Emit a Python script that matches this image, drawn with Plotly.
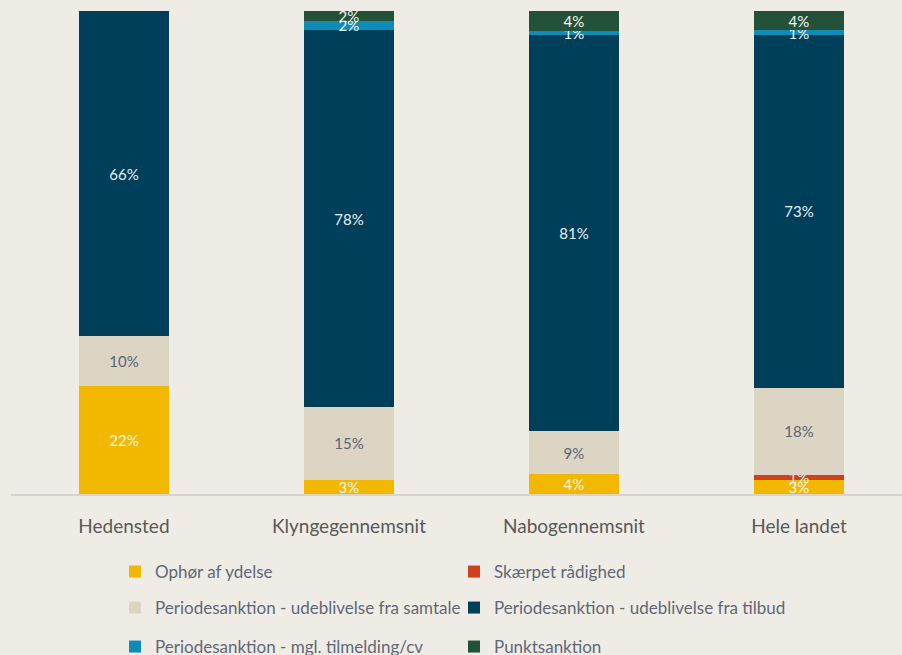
import plotly.graph_objects as go

categories = ["Hedensted", "Klyngegennemsnit", "Nabogennemsnit", "Hele landet"]

series_names = [
    "Ophør af ydelse",
    "Skærpet rådighed",
    "Periodesanktion - udeblivelse fra samtale",
    "Periodesanktion - udeblivelse fra tilbud",
    "Periodesanktion - mgl. tilmelding/cv",
    "Punktsanktion",
]

# Displayed percentages (labels as in the source chart)
ophoer = [22, 3, 4, 3]
skaerpet = [0, 0, 0, 1]
samtale = [10, 15, 9, 18]
tilbud = [66, 78, 81, 73]
tilmelding = [0, 2, 1, 1]
punkt = [0, 2, 4, 4]

series_values = [ophoer, skaerpet, samtale, tilbud, tilmelding, punkt]

colors = ["#F2B800", "#D0401E", "#DDD5C4", "#003F5A", "#0E8CB8", "#245238"]
text_colors = ["#F5F5F0", "#F5F5F0", "#5A6478", "#E8EEF2", "#F5F5F0", "#F5F5F0"]
legend_ids = ["legend", "legend", "legend2", "legend2", "legend3", "legend3"]

FONT = "Lato, Open Sans, sans-serif"

fig = go.Figure()
for name, vals, col, tcol, lg in zip(series_names, series_values, colors, text_colors, legend_ids):
    fig.add_trace(go.Bar(
        name=name,
        x=categories,
        y=vals,
        marker=dict(color=col, line=dict(width=0)),
        width=0.4,
        text=[f"{v}%" if v > 0 else "" for v in vals],
        texttemplate="%{text}",
        textposition="inside",
        insidetextanchor="middle",
        textangle=0,
        constraintext="none",
        textfont=dict(family=FONT, size=15, color=tcol),
        legend=lg,
        hoverinfo="skip",
    ))

legend_common = dict(
    orientation="h",
    xref="container", yref="container",
    x=115 / 902, xanchor="left",
    yanchor="middle",
    entrywidth=294, entrywidthmode="pixels",
    font=dict(family=FONT, size=17, color="#5F6878"),
    bgcolor="rgba(0,0,0,0)",
    itemwidth=30,
    traceorder="normal",
)

fig.update_layout(
    barmode="stack",
    barnorm="percent",
    width=902, height=655,
    paper_bgcolor="#EFECE5",
    plot_bgcolor="#EFECE5",
    margin=dict(l=11, r=0, t=11, b=161, autoexpand=False),
    xaxis=dict(
        range=[-0.502, 3.458],
        showline=True, linecolor="#D6D4D0", linewidth=2,
        showgrid=False, zeroline=False,
        ticks="", tickfont=dict(family=FONT, size=19, color="#595959"),
        ticklabelstandoff=14,
    ),
    yaxis=dict(range=[0, 100], visible=False, showgrid=False, zeroline=False),
    legend=dict(legend_common, y=1 - 572 / 655),
    legend2=dict(legend_common, y=1 - 608 / 655),
    legend3=dict(legend_common, y=1 - 647 / 655),
    showlegend=True,
)

fig.write_html(
    "out.html",
    config={"displayModeBar": False},
    post_script="document.body.style.margin='0';document.body.style.background='#EFECE5';",
)
